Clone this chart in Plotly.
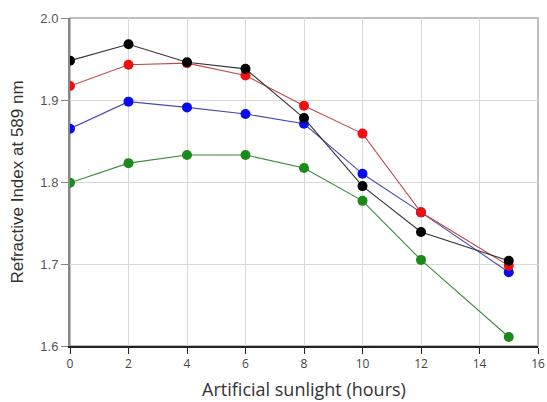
import plotly.graph_objects as go

hours = [0, 2, 4, 6, 8, 10, 12, 15]
green = [1.799, 1.823, 1.833, 1.833, 1.817, 1.777, 1.705, 1.611]
blue = [1.865, 1.898, 1.891, 1.883, 1.871, 1.810, 1.763, 1.690]
red = [1.917, 1.943, 1.945, 1.930, 1.893, 1.859, 1.763, 1.698]
black = [1.948, 1.968, 1.946, 1.938, 1.878, 1.795, 1.739, 1.704]

series = [
    ("green", green, "#1a8a1a", "#3a8a3a"),
    ("blue", blue, "#0a0af0", "#4a4ab0"),
    ("red", red, "#f01010", "#c04a4a"),
    ("black", black, "#000000", "#333333"),
]

fig = go.Figure()
for name, vals, mc, lc in series:
    fig.add_trace(go.Scatter(
        x=hours, y=vals, mode="lines+markers", name=name,
        line=dict(color=lc, width=1.1),
        marker=dict(color=mc, size=10),
        showlegend=False,
    ))

fig.update_layout(
    width=547, height=402,
    margin=dict(l=70, r=9, t=18, b=56),
    paper_bgcolor="white", plot_bgcolor="white",
    font=dict(family="Liberation Sans, Arial, sans-serif", color="#333333"),
    shapes=[dict(type="rect", xref="paper", yref="paper", x0=0, y0=0, x1=1, y1=1,
                 line=dict(color="#aaaaaa", width=1.5), layer="below")],
)
fig.update_xaxes(
    range=[0, 16], dtick=2, tick0=0, automargin=False,
    showgrid=True, gridcolor="#d9d9d9", gridwidth=1,
    showline=True, linecolor="#222222", linewidth=1.5,
    ticks="outside", ticklen=6, tickcolor="#222222",
    zeroline=False,
    tickfont=dict(family="Open Sans, sans-serif", size=12, color="#444444"),
    title=dict(text="Artificial sunlight (hours)",
               font=dict(family="Open Sans, sans-serif", size=18, color="#333333"), standoff=12),
)
fig.update_yaxes(
    range=[1.6, 2.0], dtick=0.1, tick0=1.6, tickformat=".1f", automargin=False,
    showgrid=True, gridcolor="#d9d9d9", gridwidth=1,
    showline=True, linecolor="#888888", linewidth=2,
    ticks="outside", ticklen=7, tickcolor="#888888",
    zeroline=False,
    tickfont=dict(size=13, color="#555555"),
    title=dict(text="Refractive Index at 589 nm", font=dict(size=17, color="#333333"), standoff=12),
)

fig.write_html(
    "out.html",
    config={"displayModeBar": False},
    post_script="document.body.style.margin='0';document.body.style.overflow='hidden';",
)
